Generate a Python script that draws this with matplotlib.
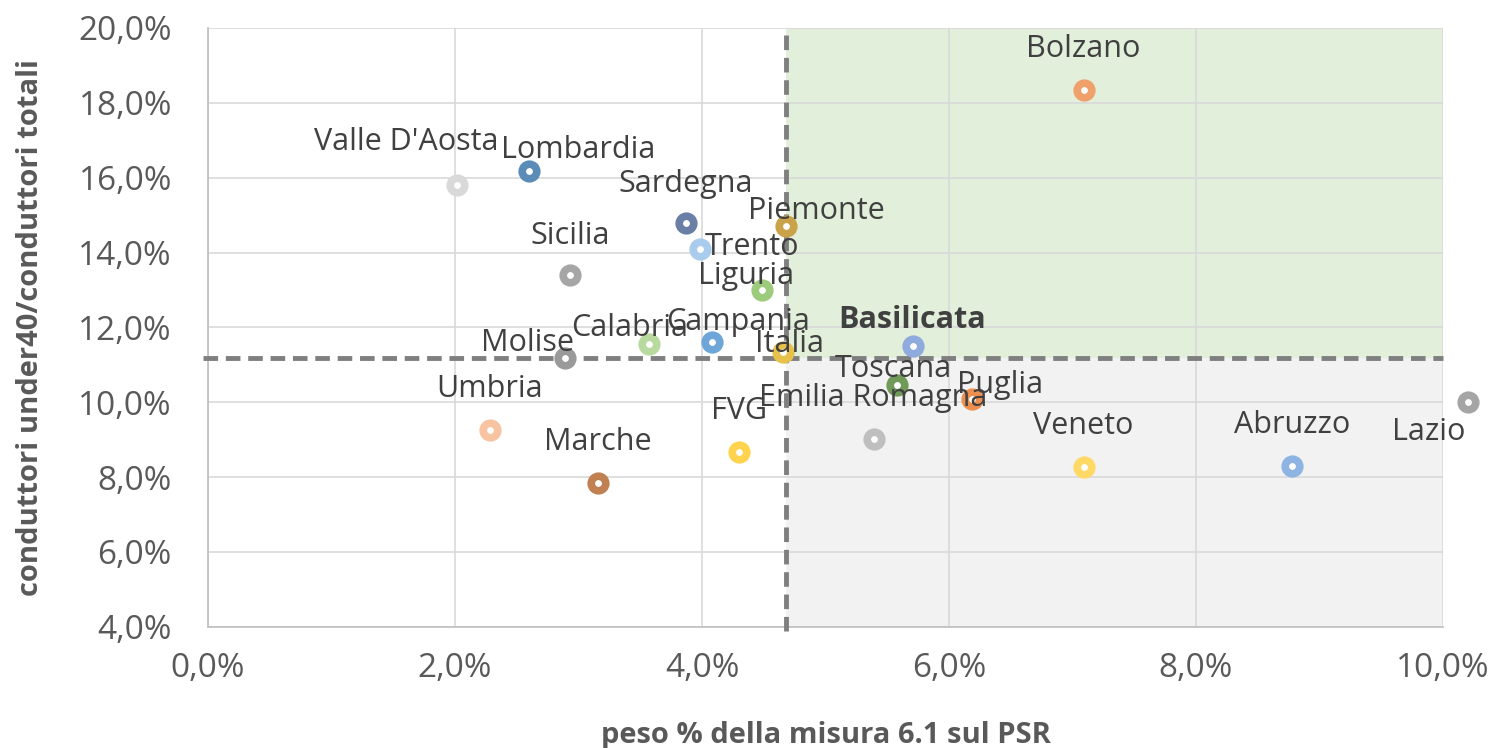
import matplotlib
matplotlib.use("Agg")
import matplotlib.pyplot as plt
from matplotlib.ticker import FuncFormatter

plt.rcParams["font.family"] = ["Open Sans", "DejaVu Sans"]

regions = ["Valle D'Aosta", "Lombardia", "Sardegna", "Piemonte", "Trento", "Sicilia",
           "Liguria", "Calabria", "Campania", "Italia", "Molise", "Basilicata",
           "Toscana", "Puglia", "Emilia Romagna", "Umbria", "Marche", "FVG",
           "Veneto", "Abruzzo", "Lazio", "Bolzano"]
peso_61 = [2.02, 2.60, 3.87, 4.68, 3.98, 2.93,
           4.49, 3.57, 4.08, 4.66, 2.89, 5.71,
           5.58, 6.19, 5.39, 2.28, 3.16, 4.30,
           7.09, 8.78, 10.20, 7.09]
under40 = [15.80, 16.18, 14.80, 14.70, 14.10, 13.40,
           13.00, 11.55, 11.62, 11.33, 11.17, 11.50,
           10.45, 10.10, 9.03, 9.27, 7.85, 8.68,
           8.28, 8.31, 10.02, 18.35]
mean_x = 4.68
mean_y = 11.18

colors = ["#d9d9d9", "#5b8bb7", "#6a7fa6", "#c9a24a", "#a9cbec", "#a6a6a6",
          "#9ccb7c", "#b8da9f", "#6fa6da", "#e6c24c", "#9a9a9a", "#8faadc",
          "#6f9a58", "#ed8f4e", "#bfbfbf", "#f8c3a0", "#c08052", "#ffd34d",
          "#ffd966", "#8db4e2", "#a5a5a5", "#f0a06a"]
# label offsets in points (dx, dy)
offsets = [(-37, 31), (35, 15), (0, 28), (22, 11), (38, 1), (0, 28),
           (-12, 10), (-14, 12), (19, 14), (4, 6), (-27, 11), (-1, 19),
           (-3, 12), (20, 10), (0, 29), (0, 29), (0, 29), (0, 29),
           (0, 29), (0, 29), (-28, -22), (0, 29)]

fig = plt.figure(figsize=(14.93, 7.48), dpi=100)
ax = fig.add_axes([0.1393, 0.162, 0.8272, 0.8006])

ax.set_xlim(0, 10)
ax.set_ylim(4, 20)

# quadrant shading
ax.axvspan(mean_x, 10, ymin=(mean_y - 4) / 16, ymax=1, color="#e2efda", zorder=0, lw=0)
ax.axvspan(mean_x, 10, ymin=0, ymax=(mean_y - 4) / 16, color="#f2f2f2", zorder=0, lw=0)

ax.set_xticks([0, 2, 4, 6, 8, 10])
ax.set_yticks(range(4, 21, 2))
ax.grid(True, color="#d9d9d9", lw=1.2, zorder=1)
ax.set_axisbelow(True)
for s in ["top", "right"]:
    ax.spines[s].set_visible(False)
for s in ["left", "bottom"]:
    ax.spines[s].set_color("#bfbfbf")
    ax.spines[s].set_linewidth(1.2)
ax.tick_params(length=0, labelsize=24, colors="#595959", pad=26)
ax.tick_params(axis="x", pad=18)
fmt = FuncFormatter(lambda v, p: f"{v:.1f}%".replace(".", ","))
ax.xaxis.set_major_formatter(fmt)
ax.yaxis.set_major_formatter(fmt)

# mean lines
ax.plot([mean_x, mean_x], [3.9, 20], color="#7f7f7f", lw=3.5, ls=(0, (3, 1.6)),
        zorder=3, clip_on=False)
ax.plot([-0.04, 10], [mean_y, mean_y], color="#7f7f7f", lw=3.5, ls=(0, (3, 1.6)),
        zorder=3, clip_on=False)

for i, name in enumerate(regions):
    ax.plot(peso_61[i], under40[i], marker="o", ms=10.5, mew=5.5, mfc="white",
            mec=colors[i], ls="none", zorder=4, clip_on=False)
    ax.annotate(name, (peso_61[i], under40[i]), xytext=offsets[i],
                textcoords="offset points", ha="center", va="center",
                fontsize=22, color="#404040", zorder=5,
                fontweight="bold" if name == "Basilicata" else "normal",
                annotation_clip=False)

ax.set_xlabel("peso % della misura 6.1 sul PSR", fontsize=21, fontweight="bold",
              color="#595959", labelpad=26)
ax.set_ylabel("conduttori under40/conduttori totali", fontsize=21, fontweight="bold",
              color="#595959", labelpad=24)

fig.savefig("out.png", dpi=100)
